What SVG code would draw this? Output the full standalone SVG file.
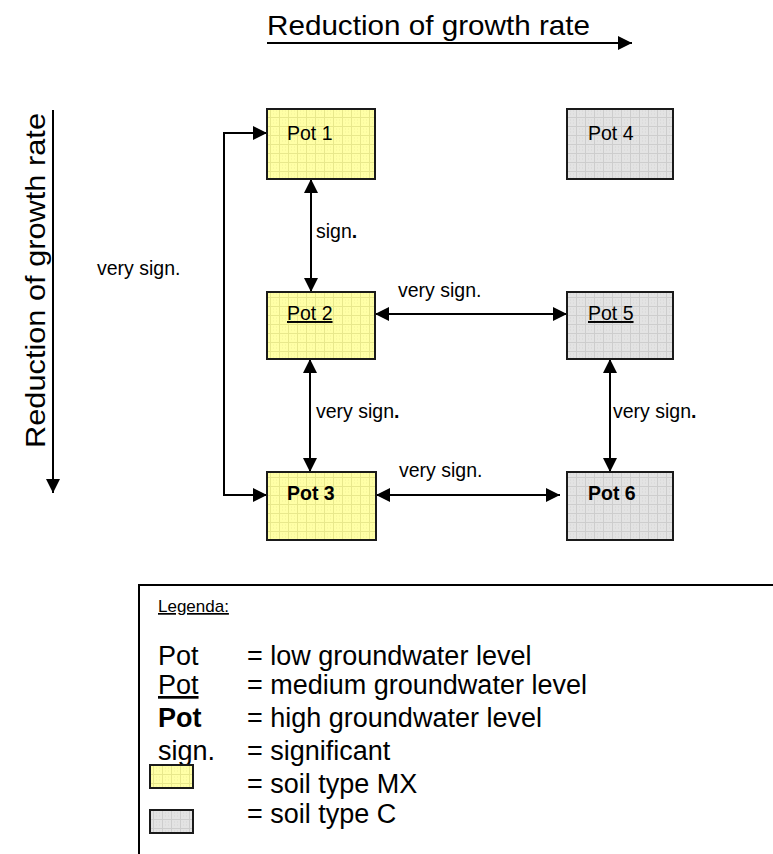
<svg xmlns="http://www.w3.org/2000/svg" width="773" height="854" viewBox="0 0 773 854">
<style>
  text { font-family: "Liberation Sans", Arial, sans-serif; fill: #000; }
  .node rect { stroke: #1a1a1a; stroke-width: 2; }
  .lbl { font-size: 19.5px; }
  .leg { font-size: 27px; }
  .conn { fill: none; stroke: #000; stroke-width: 2; marker-start: url(#ah); marker-end: url(#ah); }
  .axis { fill: none; stroke: #000; stroke-width: 2; marker-end: url(#ah); }
</style>
<defs>
  <marker id="ah" viewBox="0 0 14 14" refX="14" refY="7" markerWidth="14" markerHeight="14" markerUnits="userSpaceOnUse" orient="auto-start-reverse">
    <path d="M0,0 L14,7 L0,14 z" fill="#000"/>
  </marker>
  <pattern id="py" width="9" height="9" patternUnits="userSpaceOnUse">
    <rect width="9" height="9" fill="#ffffa6"/>
    <path d="M0,0.5 H9 M0.5,0 V9" stroke="#e8e88c" stroke-width="1"/>
    <path d="M3,3 h1 M6,6 h1 M3,6 h1 M6,3 h1" stroke="#f2f29a" stroke-width="1"/>
  </pattern>
  <pattern id="pg" width="9" height="9" patternUnits="userSpaceOnUse">
    <rect width="9" height="9" fill="#e3e3e3"/>
    <path d="M0,0.5 H9 M0.5,0 V9" stroke="#cdcdcd" stroke-width="1"/>
    <path d="M3,3 h1 M6,6 h1 M3,6 h1 M6,3 h1" stroke="#d6d6d6" stroke-width="1"/>
  </pattern>
</defs>

<!-- axes -->
<g id="axes">
  <text x="267" y="35" font-size="28" textLength="323" lengthAdjust="spacingAndGlyphs">Reduction of growth rate</text>
  <line class="axis" x1="267" y1="43" x2="632" y2="43"/>
  <text transform="translate(45,448) rotate(-90)" font-size="28" textLength="335" lengthAdjust="spacingAndGlyphs">Reduction of growth rate</text>
  <line class="axis" x1="53" y1="110" x2="53" y2="493"/>
</g>

<!-- connectors -->
<g id="connectors">
  <line class="conn" x1="311" y1="179" x2="311" y2="292"/>
  <line class="conn" x1="375" y1="314" x2="567" y2="314"/>
  <line class="conn" x1="310" y1="359" x2="310" y2="472"/>
  <line class="conn" x1="610" y1="359" x2="610" y2="472"/>
  <line class="conn" x1="376" y1="495" x2="560" y2="495"/>
  <path class="conn" d="M267,133 H224 V495 H267"/>
  <text class="lbl" x="316" y="238">sign<tspan font-weight="bold">.</tspan></text>
  <text class="lbl" x="97" y="275">very sign.</text>
  <text class="lbl" x="398" y="297">very sign.</text>
  <text class="lbl" x="316" y="418">very sign<tspan font-weight="bold">.</tspan></text>
  <text class="lbl" x="613" y="418">very sign<tspan font-weight="bold">.</tspan></text>
  <text class="lbl" x="399" y="477">very sign.</text>
</g>

<!-- nodes -->
<g id="pot1" class="node">
  <rect x="267" y="109" width="108" height="70" fill="url(#py)"/>
  <text class="lbl" x="287" y="140">Pot 1</text>
</g>
<g id="pot4" class="node">
  <rect x="567" y="109" width="106" height="70" fill="url(#pg)"/>
  <text class="lbl" x="588" y="140">Pot 4</text>
</g>
<g id="pot2" class="node">
  <rect x="267" y="292" width="108" height="67" fill="url(#py)"/>
  <text class="lbl" x="287" y="320" text-decoration="underline">Pot 2</text>
</g>
<g id="pot5" class="node">
  <rect x="567" y="292" width="106" height="67" fill="url(#pg)"/>
  <text class="lbl" x="588" y="320" text-decoration="underline">Pot 5</text>
</g>
<g id="pot3" class="node">
  <rect x="267" y="472" width="109" height="68" fill="url(#py)"/>
  <text class="lbl" x="287" y="500" font-weight="bold">Pot 3</text>
</g>
<g id="pot6" class="node">
  <rect x="567" y="472" width="106" height="68" fill="url(#pg)"/>
  <text class="lbl" x="588" y="500" font-weight="bold">Pot 6</text>
</g>

<!-- legend -->
<g id="legend">
  <rect x="139" y="585" width="700" height="300" fill="#fff" stroke="#000" stroke-width="2"/>
  <text x="158" y="612" font-size="17" text-decoration="underline">Legenda:</text>
  <text class="leg" x="158" y="665">Pot</text>
  <text class="leg" x="247" y="665">= low groundwater level</text>
  <text class="leg" x="158" y="694" text-decoration="underline">Pot</text>
  <text class="leg" x="247" y="694">= medium groundwater level</text>
  <text class="leg" x="158" y="727" font-weight="bold">Pot</text>
  <text class="leg" x="247" y="727">= high groundwater level</text>
  <text class="leg" x="158" y="760">sign.</text>
  <text class="leg" x="247" y="760">= significant</text>
  <rect x="150" y="765" width="43" height="23" fill="url(#py)" stroke="#1a1a1a" stroke-width="2"/>
  <text class="leg" x="247" y="793">= soil type MX</text>
  <rect x="150" y="810" width="43" height="23" fill="url(#pg)" stroke="#1a1a1a" stroke-width="2"/>
  <text class="leg" x="247" y="823">= soil type C</text>
</g>
</svg>
